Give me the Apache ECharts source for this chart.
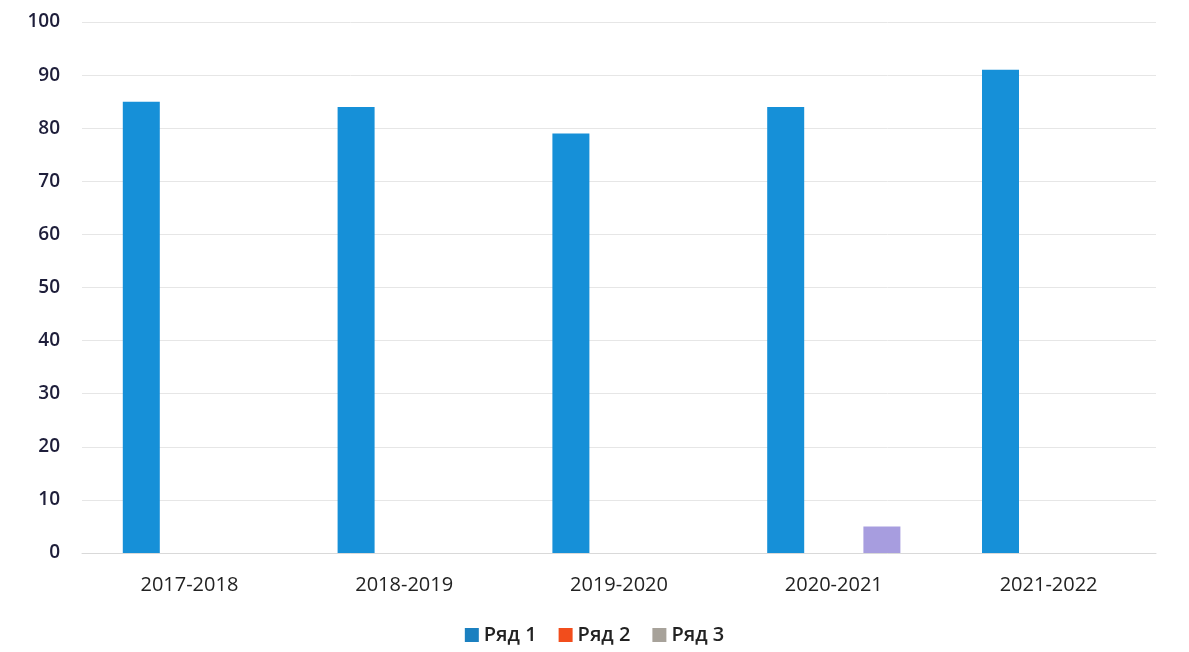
<!DOCTYPE html>
<html><head><meta charset="utf-8">
<script src="https://cdn.jsdelivr.net/npm/echarts@6/dist/echarts.min.js"></script>
<style>html,body{margin:0;padding:0;background:#fff}#c{width:1189px;height:652px}</style>
</head><body><div id="c"></div>
<script>
const categories = ['2017-2018','2018-2019','2019-2020','2020-2021','2021-2022'];
const series1 = [85, 84, 79, 84, 91];
const series2 = [0, 0, 0, 0, 0];
const series3 = [0, 0, 0, 5, 0];
const seriesNames = ['Ряд 1','Ряд 2','Ряд 3'];
const yTicks = {min:0, max:100, interval:10};

const chart = echarts.init(document.getElementById('c'));
const font = '"Open Sans", Lato, sans-serif';
chart.setOption({
  animation:false,
  textStyle:{fontFamily:font},
  grid:{left:82, right:33, top:22, bottom:99, containLabel:false},
  legend:{
    bottom:2, left:'center', itemWidth:14, itemHeight:14, itemGap:22,
    icon:'rect',
    textStyle:{fontSize:20, fontWeight:600, color:'#222', fontFamily:font},
    data:[
      {name:seriesNames[0], itemStyle:{color:'#1b80c0'}},
      {name:seriesNames[1], itemStyle:{color:'#f24d1c'}},
      {name:seriesNames[2], itemStyle:{color:'#a7a29a'}}
    ]
  },
  xAxis:{
    type:'category', data:categories,
    axisLine:{show:true, lineStyle:{color:'#d9d9d9'}},
    axisTick:{show:false},
    axisLabel:{fontSize:20, color:'#222', margin:22, fontFamily:font}
  },
  yAxis:{
    type:'value', min:yTicks.min, max:yTicks.max, interval:yTicks.interval,
    axisLine:{show:false}, axisTick:{show:false},
    axisLabel:{fontSize:19, color:'#1e1e3a', fontWeight:600, margin:22, fontFamily:font},
    splitLine:{lineStyle:{color:'#e6e6e6'}}
  },
  series:[
    {name:seriesNames[0], type:'bar', data:series1, barWidth:37, barGap:'30%', itemStyle:{color:'#1690d8'}},
    {name:seriesNames[1], type:'bar', data:series2, barWidth:37, itemStyle:{color:'#f24d1c'}},
    {name:seriesNames[2], type:'bar', data:series3, barWidth:37, itemStyle:{color:'#a79ddf'}}
  ]
});
</script></body></html>
